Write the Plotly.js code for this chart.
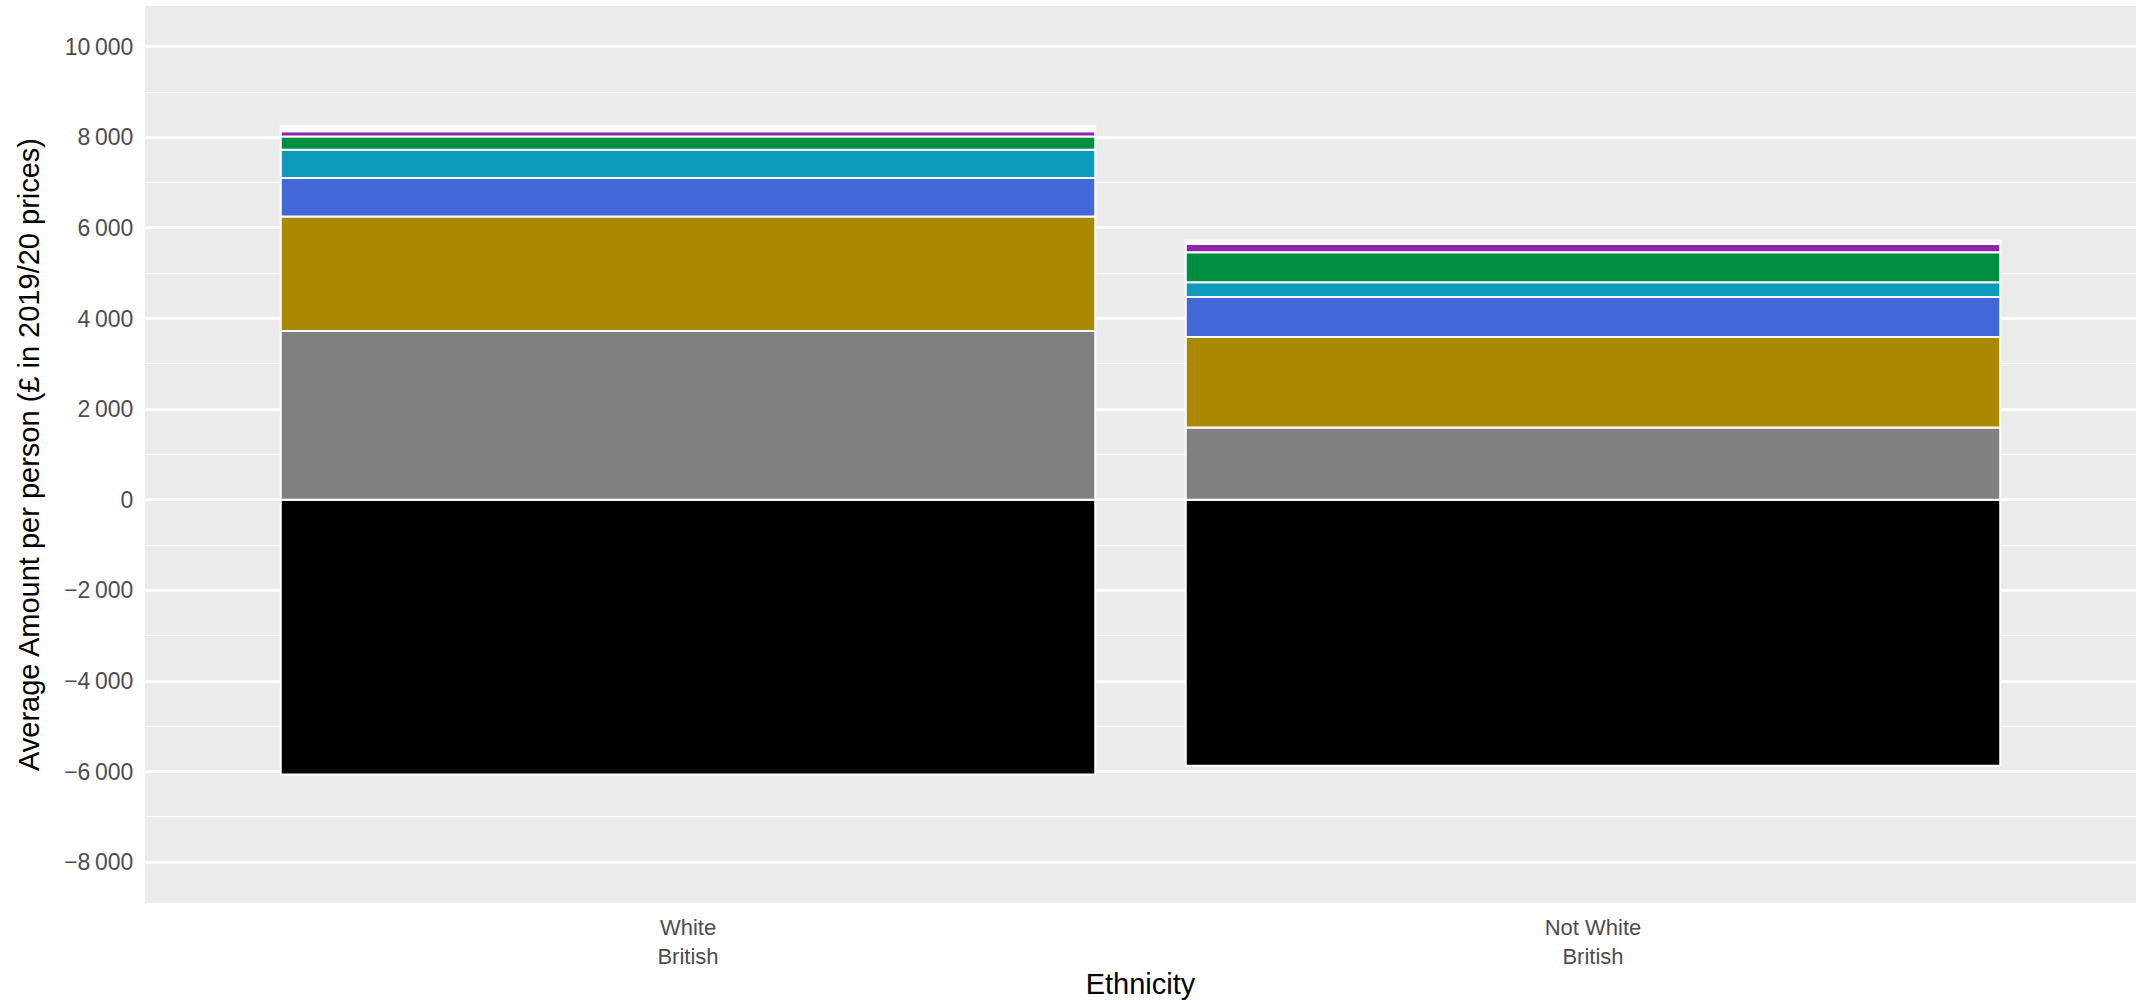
<!DOCTYPE html>
<html>
<head>
<meta charset="utf-8">
<script src="https://cdn.plot.ly/plotly-3.0.1.min.js"></script>
<style>
  html, body { margin: 0; padding: 0; background: #ffffff; }
  #chart { width: 2146px; height: 1000px; }
</style>
</head>
<body>
<div id="chart"></div>
<script>
// Categories
const categories = ["White<br>British", "Not White<br>British"];

// Series values (£ per person, 2019/20 prices)
const seriesNames = ["Taxes", "Component 1", "Component 2", "Component 3", "Component 4", "Component 5", "Component 6", "Component 7"];
const taxes       = [-6065, -5870];
const component1  = [3727, 1597];
const component2  = [2524, 1998];
const component3  = [851, 882];
const component4  = [626, 324];
const component5  = [294, 662];
const component6  = [115, 184];
const component7  = [115, 70];

const seriesValues = [taxes, component1, component2, component3, component4, component5, component6, component7];
const seriesColors = ["#000000", "#808080", "#AA8800", "#4267D9", "#0D99BB", "#008E41", "#8E24AA", "#FFFFFF"];

// Y tick values and labels
const yTickVals = [-8000, -6000, -4000, -2000, 0, 2000, 4000, 6000, 8000, 10000];
const yTickText = ["\u22128\u2009000", "\u22126\u2009000", "\u22124\u2009000", "\u22122\u2009000", "0",
                   "2\u2009000", "4\u2009000", "6\u2009000", "8\u2009000", "10\u2009000"];

const traces = seriesValues.map((vals, i) => ({
  type: "bar",
  name: seriesNames[i],
  x: categories,
  y: vals,
  width: 0.9,
  marker: { color: seriesColors[i], line: { color: "#FFFFFF", width: 2 } },
  hoverinfo: "x+y+name"
}));

const layout = {
  width: 2146,
  height: 1000,
  barmode: "relative",
  showlegend: false,
  paper_bgcolor: "#FFFFFF",
  plot_bgcolor: "#EBEBEB",
  margin: { l: 145, r: 10, t: 6, b: 97, pad: 0 },
  font: { family: "Liberation Sans, Arial, sans-serif", color: "#4D4D4D", size: 23 },
  xaxis: {
    type: "category",
    range: [-0.6, 1.6],
    showgrid: false,
    zeroline: false,
    showline: false,
    ticks: "outside",
    ticklen: 5,
    tickcolor: "rgba(0,0,0,0)",
    tickfont: { size: 22, color: "#4D4D4D" },
    title: { text: "Ethnicity", font: { size: 29, color: "#000000" }, standoff: 6 },
    automargin: false
  },
  yaxis: {
    range: [-8900, 10900],
    tickmode: "array",
    tickvals: yTickVals,
    ticktext: yTickText,
    showgrid: true,
    gridcolor: "#FFFFFF",
    gridwidth: 2.6,
    zeroline: false,
    showline: false,
    ticks: "outside",
    ticklen: 6,
    tickcolor: "rgba(0,0,0,0)",
    tickfont: { size: 23, color: "#4D4D4D" },
    minor: { dtick: 1000, tick0: 0, showgrid: true, gridcolor: "#FFFFFF", gridwidth: 1.3, ticks: "" },
    title: { text: "Average Amount per person (£ in 2019/20 prices)", font: { size: 29, color: "#000000" }, standoff: 16 },
    automargin: false
  }
};

Plotly.newPlot("chart", traces, layout, { displayModeBar: false, responsive: false });
</script>
</body>
</html>
